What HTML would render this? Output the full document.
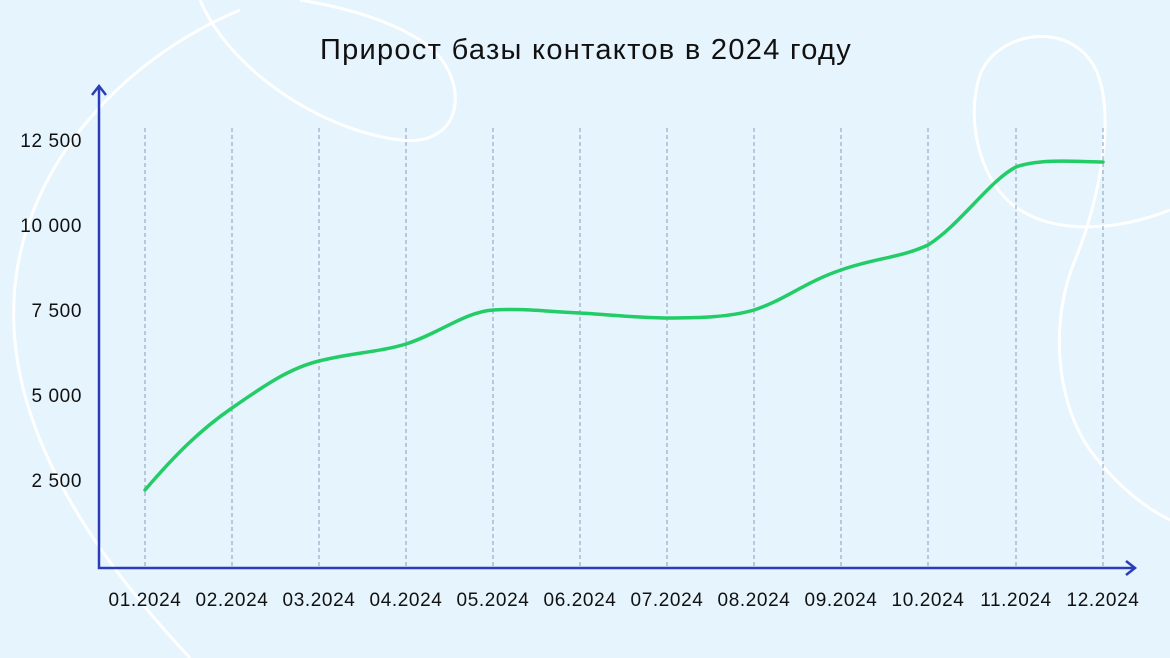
<!DOCTYPE html>
<html><head><meta charset="utf-8"><style>
html,body{margin:0;padding:0;background:#e6f4fd;}
svg{display:block}
text{font-family:"Liberation Sans",sans-serif;fill:#111;}
</style></head><body>
<svg width="1170" height="658" viewBox="0 0 1170 658" xmlns="http://www.w3.org/2000/svg">
<rect width="1170" height="658" fill="#e6f4fd"/>
<g fill="none" stroke="#ffffff" stroke-width="3">
<path d="M240,10 C120,60 20,170 14,300 C8,420 80,540 190,658"/>
<path d="M200,0 C230,70 320,130 400,140 C470,148 470,70 420,40 C380,15 330,5 300,0"/>
<path d="M1170,210 C1120,230 1060,235 1020,210 C980,185 965,120 980,75 C995,35 1060,20 1090,60 C1120,100 1100,200 1075,260 C1050,320 1055,400 1090,450 C1120,490 1150,510 1170,520"/>
</g>
<text x="586" y="59" text-anchor="middle" font-size="29" letter-spacing="1.3">Прирост базы контактов в 2024 году</text>
<g stroke="#8a9ab8" stroke-width="1" stroke-dasharray="4,3">
<line x1="145" y1="128" x2="145" y2="566"/><line x1="232" y1="128" x2="232" y2="566"/>
<line x1="319" y1="128" x2="319" y2="566"/><line x1="406" y1="128" x2="406" y2="566"/>
<line x1="493" y1="128" x2="493" y2="566"/><line x1="580" y1="128" x2="580" y2="566"/>
<line x1="667" y1="128" x2="667" y2="566"/><line x1="754" y1="128" x2="754" y2="566"/>
<line x1="841" y1="128" x2="841" y2="566"/><line x1="928" y1="128" x2="928" y2="566"/>
<line x1="1016" y1="128" x2="1016" y2="566"/><line x1="1103" y1="128" x2="1103" y2="566"/>
</g>
<g stroke="#2a3cb8" stroke-width="2.5" fill="none">
<polyline points="99,88 99,568 1134,568"/>
<polyline points="92,95 99,86 106,95"/>
<polyline points="1126,561 1135,568 1126,575"/>
</g>
<g font-size="19" text-anchor="end" letter-spacing="0.6">
<text x="82" y="147">12 500</text><text x="82" y="232">10 000</text>
<text x="82" y="317">7 500</text><text x="82" y="402">5 000</text><text x="82" y="487">2 500</text>
</g>
<g font-size="19" text-anchor="middle" letter-spacing="0.6">
<text x="145" y="606">01.2024</text><text x="232" y="606">02.2024</text><text x="319" y="606">03.2024</text>
<text x="406" y="606">04.2024</text><text x="493" y="606">05.2024</text><text x="580" y="606">06.2024</text>
<text x="667" y="606">07.2024</text><text x="754" y="606">08.2024</text><text x="841" y="606">09.2024</text>
<text x="928" y="606">10.2024</text><text x="1016" y="606">11.2024</text><text x="1103" y="606">12.2024</text>
</g>
<path fill="none" stroke="#22cc66" stroke-width="3.5" stroke-linecap="round"
d="M145,490 C175,455 200,430 232,408 C265,385 290,368 319,361 C350,353 380,352 406,344 C440,333 465,312 493,310 C525,308 550,312 580,313 C615,315 640,318 667,318 C700,318 730,317 754,310 C785,300 805,282 841,270 C875,258 900,258 928,245 C960,225 990,180 1016,167 C1040,158 1080,162 1103,162"/>
</svg>
</body></html>
